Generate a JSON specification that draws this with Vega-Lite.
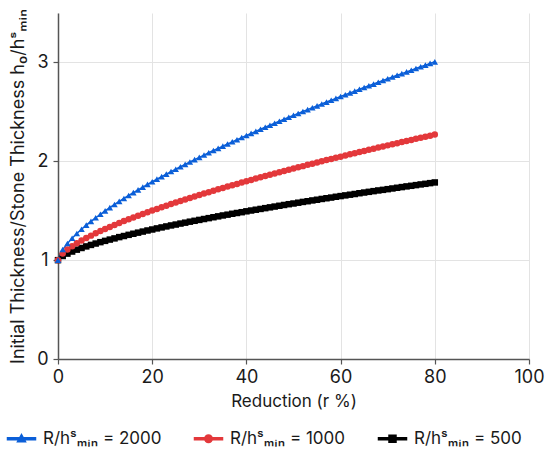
{
  "$schema": "https://vega.github.io/schema/vega-lite/v6.json",
  "width": 471,
  "height": 346,
  "autosize": "none",
  "padding": {"left": 58, "top": 13, "right": 21, "bottom": 97},
  "background": "white",
  "config": {
    "view": {"stroke": null},
    "font": "Inter",
    "axis": {
      "labelFont": "Inter", "labelFontSize": 18, "labelColor": "#1a1a1a", "labelFlush": false,
      "titleFont": "Inter", "titleFontSize": 17, "titleFontWeight": "normal", "titleColor": "#1a1a1a",
      "domainColor": "#555", "domainWidth": 1.5, "tickColor": "#555", "tickWidth": 1.2, "tickSize": 5,
      "gridColor": "#e3e3e3", "gridWidth": 1
    },
    "legend": {"labelFont": "Inter", "labelFontSize": 17, "labelColor": "#1a1a1a", "padding": 0}
  },
  "data": {
    "values": [
      {"r":0,"k":"500","h":1},{"r":1,"k":"500","h":1.042},{"r":2,"k":"500","h":1.066},{"r":3,"k":"500","h":1.087},{"r":4,"k":"500","h":1.106},{"r":5,"k":"500","h":1.123},{"r":6,"k":"500","h":1.139},{"r":7,"k":"500","h":1.154},{"r":8,"k":"500","h":1.168},{"r":9,"k":"500","h":1.182},
      {"r":10,"k":"500","h":1.195},{"r":11,"k":"500","h":1.208},{"r":12,"k":"500","h":1.22},{"r":13,"k":"500","h":1.233},{"r":14,"k":"500","h":1.244},{"r":15,"k":"500","h":1.256},{"r":16,"k":"500","h":1.267},{"r":17,"k":"500","h":1.278},{"r":18,"k":"500","h":1.289},{"r":19,"k":"500","h":1.3},
      {"r":20,"k":"500","h":1.31},{"r":21,"k":"500","h":1.321},{"r":22,"k":"500","h":1.331},{"r":23,"k":"500","h":1.341},{"r":24,"k":"500","h":1.351},{"r":25,"k":"500","h":1.36},{"r":26,"k":"500","h":1.37},{"r":27,"k":"500","h":1.379},{"r":28,"k":"500","h":1.389},{"r":29,"k":"500","h":1.398},
      {"r":30,"k":"500","h":1.407},{"r":31,"k":"500","h":1.416},{"r":32,"k":"500","h":1.425},{"r":33,"k":"500","h":1.434},{"r":34,"k":"500","h":1.443},{"r":35,"k":"500","h":1.452},{"r":36,"k":"500","h":1.46},{"r":37,"k":"500","h":1.469},{"r":38,"k":"500","h":1.477},{"r":39,"k":"500","h":1.485},
      {"r":40,"k":"500","h":1.494},{"r":41,"k":"500","h":1.502},{"r":42,"k":"500","h":1.51},{"r":43,"k":"500","h":1.518},{"r":44,"k":"500","h":1.526},{"r":45,"k":"500","h":1.534},{"r":46,"k":"500","h":1.542},{"r":47,"k":"500","h":1.55},{"r":48,"k":"500","h":1.558},{"r":49,"k":"500","h":1.566},
      {"r":50,"k":"500","h":1.573},{"r":51,"k":"500","h":1.581},{"r":52,"k":"500","h":1.589},{"r":53,"k":"500","h":1.596},{"r":54,"k":"500","h":1.604},{"r":55,"k":"500","h":1.611},{"r":56,"k":"500","h":1.619},{"r":57,"k":"500","h":1.626},{"r":58,"k":"500","h":1.633},{"r":59,"k":"500","h":1.641},
      {"r":60,"k":"500","h":1.648},{"r":61,"k":"500","h":1.655},{"r":62,"k":"500","h":1.662},{"r":63,"k":"500","h":1.669},{"r":64,"k":"500","h":1.677},{"r":65,"k":"500","h":1.684},{"r":66,"k":"500","h":1.691},{"r":67,"k":"500","h":1.698},{"r":68,"k":"500","h":1.705},{"r":69,"k":"500","h":1.711},
      {"r":70,"k":"500","h":1.718},{"r":71,"k":"500","h":1.725},{"r":72,"k":"500","h":1.732},{"r":73,"k":"500","h":1.739},{"r":74,"k":"500","h":1.746},{"r":75,"k":"500","h":1.752},{"r":76,"k":"500","h":1.759},{"r":77,"k":"500","h":1.766},{"r":78,"k":"500","h":1.772},{"r":79,"k":"500","h":1.779},
      {"r":80,"k":"500","h":1.786},
      {"r":0,"k":"1000","h":1},{"r":1,"k":"1000","h":1.067},{"r":2,"k":"1000","h":1.107},{"r":3,"k":"1000","h":1.141},{"r":4,"k":"1000","h":1.171},{"r":5,"k":"1000","h":1.198},{"r":6,"k":"1000","h":1.224},{"r":7,"k":"1000","h":1.248},{"r":8,"k":"1000","h":1.271},{"r":9,"k":"1000","h":1.294},
      {"r":10,"k":"1000","h":1.315},{"r":11,"k":"1000","h":1.336},{"r":12,"k":"1000","h":1.356},{"r":13,"k":"1000","h":1.376},{"r":14,"k":"1000","h":1.395},{"r":15,"k":"1000","h":1.414},{"r":16,"k":"1000","h":1.432},{"r":17,"k":"1000","h":1.45},{"r":18,"k":"1000","h":1.467},{"r":19,"k":"1000","h":1.485},
      {"r":20,"k":"1000","h":1.502},{"r":21,"k":"1000","h":1.518},{"r":22,"k":"1000","h":1.535},{"r":23,"k":"1000","h":1.551},{"r":24,"k":"1000","h":1.567},{"r":25,"k":"1000","h":1.583},{"r":26,"k":"1000","h":1.598},{"r":27,"k":"1000","h":1.613},{"r":28,"k":"1000","h":1.628},{"r":29,"k":"1000","h":1.643},
      {"r":30,"k":"1000","h":1.658},{"r":31,"k":"1000","h":1.673},{"r":32,"k":"1000","h":1.687},{"r":33,"k":"1000","h":1.702},{"r":34,"k":"1000","h":1.716},{"r":35,"k":"1000","h":1.73},{"r":36,"k":"1000","h":1.744},{"r":37,"k":"1000","h":1.757},{"r":38,"k":"1000","h":1.771},{"r":39,"k":"1000","h":1.785},
      {"r":40,"k":"1000","h":1.798},{"r":41,"k":"1000","h":1.811},{"r":42,"k":"1000","h":1.825},{"r":43,"k":"1000","h":1.838},{"r":44,"k":"1000","h":1.851},{"r":45,"k":"1000","h":1.864},{"r":46,"k":"1000","h":1.876},{"r":47,"k":"1000","h":1.889},{"r":48,"k":"1000","h":1.902},{"r":49,"k":"1000","h":1.914},
      {"r":50,"k":"1000","h":1.927},{"r":51,"k":"1000","h":1.939},{"r":52,"k":"1000","h":1.951},{"r":53,"k":"1000","h":1.964},{"r":54,"k":"1000","h":1.976},{"r":55,"k":"1000","h":1.988},{"r":56,"k":"1000","h":2.0},{"r":57,"k":"1000","h":2.012},{"r":58,"k":"1000","h":2.024},{"r":59,"k":"1000","h":2.035},
      {"r":60,"k":"1000","h":2.047},{"r":61,"k":"1000","h":2.059},{"r":62,"k":"1000","h":2.071},{"r":63,"k":"1000","h":2.082},{"r":64,"k":"1000","h":2.093},{"r":65,"k":"1000","h":2.105},{"r":66,"k":"1000","h":2.116},{"r":67,"k":"1000","h":2.127},{"r":68,"k":"1000","h":2.139},{"r":69,"k":"1000","h":2.15},
      {"r":70,"k":"1000","h":2.161},{"r":71,"k":"1000","h":2.172},{"r":72,"k":"1000","h":2.183},{"r":73,"k":"1000","h":2.194},{"r":74,"k":"1000","h":2.205},{"r":75,"k":"1000","h":2.216},{"r":76,"k":"1000","h":2.227},{"r":77,"k":"1000","h":2.238},{"r":78,"k":"1000","h":2.248},{"r":79,"k":"1000","h":2.259},
      {"r":80,"k":"1000","h":2.27},
      {"r":0,"k":"2000","h":1},{"r":1,"k":"2000","h":1.107},{"r":2,"k":"2000","h":1.169},{"r":3,"k":"2000","h":1.222},{"r":4,"k":"2000","h":1.27},{"r":5,"k":"2000","h":1.313},{"r":6,"k":"2000","h":1.354},{"r":7,"k":"2000","h":1.392},{"r":8,"k":"2000","h":1.429},{"r":9,"k":"2000","h":1.464},
      {"r":10,"k":"2000","h":1.498},{"r":11,"k":"2000","h":1.531},{"r":12,"k":"2000","h":1.563},{"r":13,"k":"2000","h":1.594},{"r":14,"k":"2000","h":1.624},{"r":15,"k":"2000","h":1.654},{"r":16,"k":"2000","h":1.683},{"r":17,"k":"2000","h":1.711},{"r":18,"k":"2000","h":1.739},{"r":19,"k":"2000","h":1.766},
      {"r":20,"k":"2000","h":1.793},{"r":21,"k":"2000","h":1.819},{"r":22,"k":"2000","h":1.845},{"r":23,"k":"2000","h":1.87},{"r":24,"k":"2000","h":1.896},{"r":25,"k":"2000","h":1.92},{"r":26,"k":"2000","h":1.945},{"r":27,"k":"2000","h":1.969},{"r":28,"k":"2000","h":1.993},{"r":29,"k":"2000","h":2.017},
      {"r":30,"k":"2000","h":2.04},{"r":31,"k":"2000","h":2.063},{"r":32,"k":"2000","h":2.086},{"r":33,"k":"2000","h":2.109},{"r":34,"k":"2000","h":2.131},{"r":35,"k":"2000","h":2.153},{"r":36,"k":"2000","h":2.175},{"r":37,"k":"2000","h":2.197},{"r":38,"k":"2000","h":2.218},{"r":39,"k":"2000","h":2.24},
      {"r":40,"k":"2000","h":2.261},{"r":41,"k":"2000","h":2.282},{"r":42,"k":"2000","h":2.303},{"r":43,"k":"2000","h":2.324},{"r":44,"k":"2000","h":2.344},{"r":45,"k":"2000","h":2.365},{"r":46,"k":"2000","h":2.385},{"r":47,"k":"2000","h":2.405},{"r":48,"k":"2000","h":2.425},{"r":49,"k":"2000","h":2.445},
      {"r":50,"k":"2000","h":2.465},{"r":51,"k":"2000","h":2.484},{"r":52,"k":"2000","h":2.503},{"r":53,"k":"2000","h":2.523},{"r":54,"k":"2000","h":2.542},{"r":55,"k":"2000","h":2.561},{"r":56,"k":"2000","h":2.58},{"r":57,"k":"2000","h":2.599},{"r":58,"k":"2000","h":2.618},{"r":59,"k":"2000","h":2.636},
      {"r":60,"k":"2000","h":2.655},{"r":61,"k":"2000","h":2.673},{"r":62,"k":"2000","h":2.692},{"r":63,"k":"2000","h":2.71},{"r":64,"k":"2000","h":2.728},{"r":65,"k":"2000","h":2.746},{"r":66,"k":"2000","h":2.764},{"r":67,"k":"2000","h":2.781},{"r":68,"k":"2000","h":2.799},{"r":69,"k":"2000","h":2.817},
      {"r":70,"k":"2000","h":2.835},{"r":71,"k":"2000","h":2.852},{"r":72,"k":"2000","h":2.87},{"r":73,"k":"2000","h":2.887},{"r":74,"k":"2000","h":2.904},{"r":75,"k":"2000","h":2.921},{"r":76,"k":"2000","h":2.939},{"r":77,"k":"2000","h":2.956},{"r":78,"k":"2000","h":2.973},{"r":79,"k":"2000","h":2.99},
      {"r":80,"k":"2000","h":3.006}
    ]
  },
  "encoding": {
    "x": {
      "field": "r", "type": "quantitative",
      "scale": {"domain": [0, 100]},
      "axis": {"values": [0, 20, 40, 60, 80, 100], "title": "Reduction (r %)", "labelPadding": 4, "titlePadding": 7}
    },
    "y": {
      "field": "h", "type": "quantitative",
      "scale": {"domain": [0, 3.5]},
      "axis": {"values": [0, 1, 2, 3], "title": "Initial Thickness/Stone Thickness h₀/hˢₘᵢₙ", "titleFontSize": 18, "labelPadding": 5, "titlePadding": 9}
    },
    "color": {
      "field": "k", "type": "nominal",
      "scale": {"domain": ["2000", "1000", "500"], "range": ["#0b5fd8", "#e3383b", "#000000"]}
    }
  },
  "layer": [
    {
      "transform": [{"filter": "datum.r < 0"}],
      "mark": {"type": "point", "filled": true, "opacity": 1, "size": 100},
      "encoding": {
        "color": {
          "field": "k", "type": "nominal",
          "legend": {
            "orient": "none", "legendX": -58, "legendY": 417,
            "direction": "horizontal", "title": null,
            "symbolSize": 100, "symbolOffset": 13, "labelOffset": 13,
            "columnPadding": 25,
            "labelExpr": "'R/hˢₘᵢₙ = ' + datum.label"
          }
        },
        "shape": {
          "field": "k", "type": "nominal",
          "scale": {
            "domain": ["2000", "1000", "500"],
            "range": [
              "M-2.8,-0.2H2.8V0.2H-2.8ZM0,-0.85L0.8,0.6L-0.8,0.6Z",
              "M-2.8,-0.2H2.8V0.2H-2.8ZM-0.75,0A0.75,0.75,0,1,1,0.75,0A0.75,0.75,0,1,1,-0.75,0Z",
              "M-2.8,-0.2H2.8V0.2H-2.8ZM-0.7,-0.7H0.7V0.7H-0.7Z"
            ]
          },
          "legend": {
            "orient": "none", "legendX": -58, "legendY": 417,
            "direction": "horizontal", "title": null,
            "symbolSize": 100, "symbolOffset": 13, "labelOffset": 13,
            "columnPadding": 25,
            "labelExpr": "'R/hˢₘᵢₙ = ' + datum.label"
          }
        }
      }
    },
    {"mark": {"type": "line", "strokeWidth": 1.5}},
    {
      "transform": [{"filter": "datum.k == '500'"}],
      "mark": {"type": "point", "shape": "square", "filled": true, "opacity": 1, "size": 42}
    },
    {
      "transform": [{"filter": "datum.k == '1000'"}],
      "mark": {"type": "point", "shape": "circle", "filled": true, "opacity": 1, "size": 42}
    },
    {
      "transform": [{"filter": "datum.k == '2000'"}],
      "mark": {"type": "point", "shape": "triangle-up", "filled": true, "opacity": 1, "size": 42}
    }
  ]
}
